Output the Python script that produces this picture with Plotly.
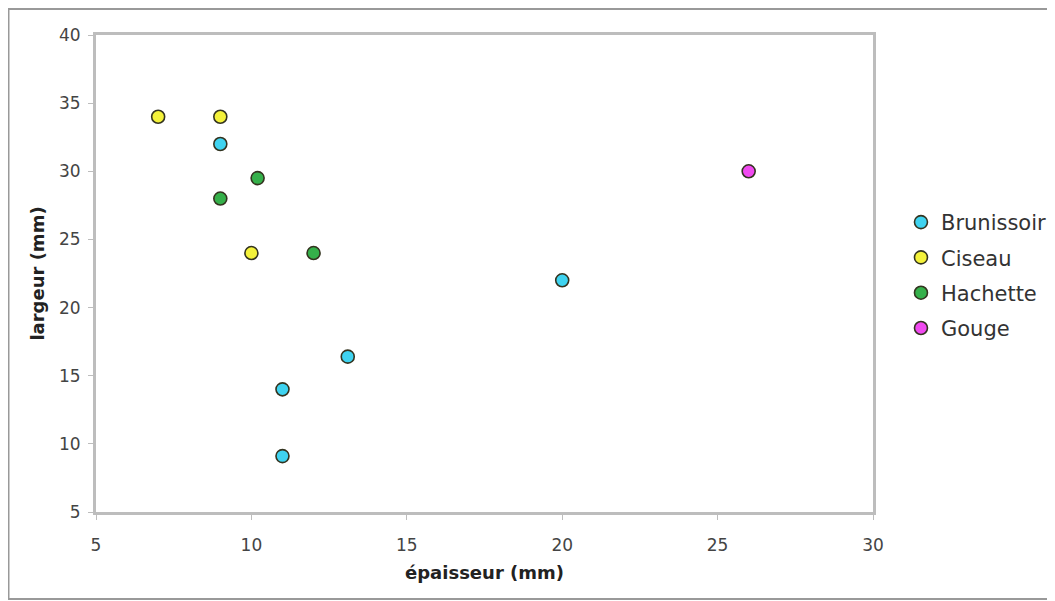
import plotly.graph_objects as go

series = ["Brunissoir", "Ciseau", "Hachette", "Gouge"]
colors = ["#3FD3F0", "#F4F23A", "#35B04A", "#F04AF0"]
brunissoir_x = [9, 20, 13.1, 11, 11]
brunissoir_y = [32, 22, 16.4, 14, 9.1]
ciseau_x = [7, 9, 10]
ciseau_y = [34, 34, 24]
hachette_x = [10.2, 9, 12]
hachette_y = [29.5, 28, 24]
gouge_x = [26]
gouge_y = [30]
xs = [brunissoir_x, ciseau_x, hachette_x, gouge_x]
ys = [brunissoir_y, ciseau_y, hachette_y, gouge_y]
tick_vals_x = [5, 10, 15, 20, 25, 30]
tick_vals_y = [5, 10, 15, 20, 25, 30, 35, 40]

fig = go.Figure()
for name, c, x, y in zip(series, colors, xs, ys):
    fig.add_trace(go.Scatter(
        x=x, y=y, mode="markers", name=name, legendgroup=name,
        marker=dict(size=13, color=c, line=dict(color="#33331f", width=1.6)),
    ))

axis_common = dict(
    showgrid=False, zeroline=False, showline=True, linecolor="#bdbdbd", linewidth=3,
    mirror=True, ticks="outside", ticklen=5, tickcolor="#bdbdbd", tickwidth=1,
    tickfont=dict(family="DejaVu Sans", size=17, color="#444444"),
)
fig.update_xaxes(range=[5, 30], tickvals=tick_vals_x, ticklabelstandoff=11,
                 title=dict(text="<b>épaisseur (mm)</b>", font=dict(family="DejaVu Sans", size=18, color="#222"), standoff=12),
                 **axis_common)
fig.update_yaxes(range=[5, 40], tickvals=tick_vals_y, ticklabelstandoff=4,
                 title=dict(text="<b>largeur (mm)</b>", font=dict(family="DejaVu Sans", size=18, color="#222"), standoff=10),
                 **axis_common)

W, H = 1047, 593
L, R, T, B = 88, 182, 27, 89
pw, ph = W - L - R, H - T - B
fig.update_layout(
    width=W, height=H,
    margin=dict(l=L, r=R, t=T, b=B, autoexpand=False),
    plot_bgcolor="white", paper_bgcolor="white",
    legend=dict(x=1.036, y=0.65, xanchor="left", yanchor="top",
                font=dict(family="DejaVu Sans", size=21, color="#333"),
                tracegroupgap=5, itemwidth=30),
    shapes=[dict(type="rect", xref="paper", yref="paper",
                 x0=(0.5 - L) / pw, x1=(W + 5 - L) / pw,
                 y0=(ph + T - (H - 2)) / ph, y1=(ph + T - 1) / ph,
                 line=dict(color="#999999", width=2))],
)
fig.write_html("out.html")
